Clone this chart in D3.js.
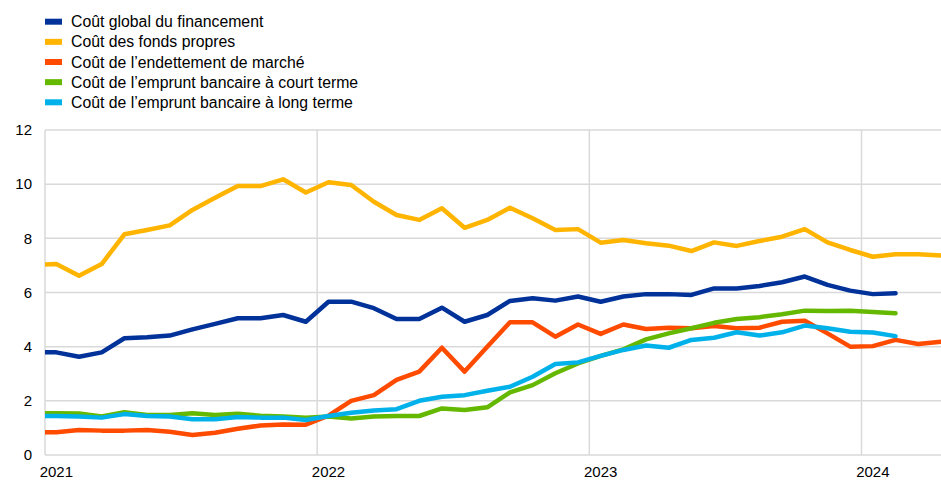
<!DOCTYPE html>
<html>
<head>
<meta charset="utf-8">
<script src="https://cdn.jsdelivr.net/npm/d3@7"></script>
<style>
  body { margin: 0; background: #fff; }
  text { font-family: Arial, "Liberation Sans", sans-serif; fill: #000; }
</style>
</head>
<body>
<svg id="chart" width="941" height="481"></svg>
<script>
// monthly observations, first value = Dec 2020 (only its tail is visible at the left edge)
const startMonth = new Date(2020, 11, 1);

const seriesNames = [
  "Coût global du financement",
  "Coût des fonds propres",
  "Coût de l’endettement de marché",
  "Coût de l’emprunt bancaire à court terme",
  "Coût de l’emprunt bancaire à long terme"
];
const seriesColors = ["#003299", "#ffb400", "#ff4b00", "#65b800", "#00b1ea"];

const globalCost = [3.79,
  3.79, 3.63, 3.79, 4.31, 4.35, 4.41, 4.64, 4.84, 5.05, 5.05, 5.17, 4.92,
  5.66, 5.66, 5.42, 5.02, 5.02, 5.44, 4.92, 5.17, 5.69, 5.79, 5.70, 5.85,
  5.66, 5.85, 5.94, 5.94, 5.91, 6.15, 6.15, 6.24, 6.38, 6.59, 6.28, 6.07,
  5.94, 5.97];
const equityCost = [7.02,
  7.05, 6.62, 7.05, 8.15, 8.31, 8.48, 9.05, 9.50, 9.93, 9.93, 10.18, 9.69,
  10.07, 9.97, 9.35, 8.86, 8.68, 9.11, 8.39, 8.68, 9.13, 8.74, 8.31, 8.34,
  7.84, 7.94, 7.82, 7.73, 7.53, 7.85, 7.72, 7.90, 8.06, 8.34, 7.85, 7.57,
  7.32, 7.41, 7.41, 7.37];
const marketDebtCost = [0.84,
  0.84, 0.92, 0.90, 0.90, 0.92, 0.86, 0.74, 0.82, 0.97, 1.09, 1.13, 1.12,
  1.45, 2.00, 2.21, 2.77, 3.08, 3.96, 3.08, 4.00, 4.90, 4.90, 4.37, 4.82,
  4.47, 4.82, 4.65, 4.70, 4.68, 4.76, 4.68, 4.70, 4.92, 4.96, 4.49, 4.00,
  4.02, 4.25, 4.10, 4.18];
const shortBankCost = [1.54,
  1.54, 1.53, 1.42, 1.58, 1.48, 1.48, 1.54, 1.48, 1.52, 1.45, 1.42, 1.38,
  1.42, 1.35, 1.42, 1.44, 1.44, 1.72, 1.66, 1.76, 2.31, 2.58, 3.02, 3.38,
  3.66, 3.90, 4.27, 4.49, 4.68, 4.88, 5.02, 5.09, 5.20, 5.33, 5.32, 5.33,
  5.28, 5.23];
const longBankCost = [1.44,
  1.44, 1.42, 1.38, 1.51, 1.44, 1.42, 1.32, 1.32, 1.40, 1.38, 1.38, 1.29,
  1.44, 1.56, 1.64, 1.69, 2.00, 2.15, 2.21, 2.37, 2.52, 2.89, 3.36, 3.42,
  3.66, 3.88, 4.04, 3.96, 4.25, 4.33, 4.53, 4.41, 4.53, 4.78, 4.68, 4.55,
  4.52, 4.39];

const yTicks = [0, 2, 4, 6, 8, 10, 12];
const yearLabels = ["2021", "2022", "2023", "2024"];

const allSeries = [globalCost, equityCost, marketDebtCost, shortBankCost, longBankCost];

const svg = d3.select("#chart");
const plotLeft = 45, plotRight = 941, plotTop = 130, plotBottom = 455;

// x in months since Jan 2021; each value sits in the middle of its month
const x = d3.scaleLinear().domain([0, 36]).range([plotLeft, 861.5]);
const y = d3.scaleLinear().domain([0, 12]).range([plotBottom, plotTop]);

function monthIndex(i) {
  const d = d3.timeMonth.offset(startMonth, i);
  return (d.getFullYear() - 2021) * 12 + d.getMonth() + 0.5;
}

// grid
const grid = svg.append("g").attr("stroke", "#d9d9d9").attr("stroke-width", 1.5);
yTicks.forEach(t => {
  grid.append("line").attr("x1", plotLeft).attr("x2", plotRight)
    .attr("y1", y(t)).attr("y2", y(t));
});
yearLabels.forEach((lab, i) => {
  grid.append("line").attr("x1", x(i * 12)).attr("x2", x(i * 12))
    .attr("y1", plotTop).attr("y2", plotBottom);
});

// y axis labels
svg.append("g").selectAll("text").data(yTicks).enter().append("text")
  .attr("x", 32).attr("y", d => y(d)).attr("dy", "0.35em")
  .attr("text-anchor", "end").style("font-size", "15px")
  .text(d => d);

// x labels centred on January
svg.append("g").selectAll("text").data(yearLabels).enter().append("text")
  .attr("x", (d, i) => x(i * 12 + 0.5)).attr("y", 477)
  .attr("text-anchor", "middle").style("font-size", "15px")
  .text(d => d);

svg.append("clipPath").attr("id", "plotclip").append("rect")
  .attr("x", plotLeft).attr("y", 0).attr("width", plotRight - plotLeft).attr("height", 481);

const line = d3.line()
  .x((d, i) => x(monthIndex(i)))
  .y(d => y(d));

const lines = svg.append("g").attr("clip-path", "url(#plotclip)");
allSeries.forEach((s, k) => {
  lines.append("path").datum(s)
    .attr("d", line)
    .attr("fill", "none")
    .attr("stroke", seriesColors[k])
    .attr("stroke-width", 4.5)
    .attr("stroke-linejoin", "round")
    .attr("stroke-linecap", "round");
});

// legend
const legend = svg.append("g");
seriesNames.forEach((name, k) => {
  const ly = 21.7 + k * 20.15;
  legend.append("rect").attr("x", 45).attr("y", ly - 3)
    .attr("width", 17).attr("height", 6).attr("fill", seriesColors[k]);
  legend.append("text").attr("x", 71).attr("y", ly).attr("dy", "0.35em")
    .style("font-size", "15.8px").text(name);
});
</script>
</body>
</html>
